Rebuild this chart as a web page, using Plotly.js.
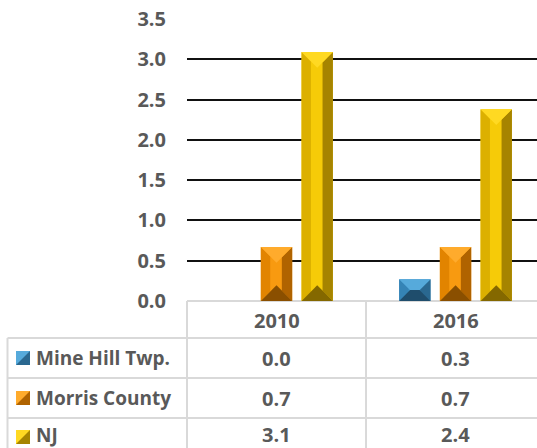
<!DOCTYPE html>
<html>
<head>
<meta charset="utf-8">
<script src="https://cdn.plot.ly/plotly-3.0.1.min.js"></script>
<style>html,body{margin:0;padding:0;background:#fff;}#chart{width:537px;height:448px;}</style>
</head>
<body>
<div id="chart"></div>
<script>
// ---- data ----
const categories = ['2010', '2016'];
const seriesNames = ['Mine Hill Twp.', 'Morris County', 'NJ'];
const mineHill = [0.0, 0.27];
const morrisCounty = [0.67, 0.67];
const nj = [3.09, 2.38];
const yTickVals = [0, 0.5, 1, 1.5, 2, 2.5, 3, 3.5];

// ---- styles ----
const W = 537, H = 448;
const M = {l: 187, r: 0, t: 19, b: 147};
const xRange = [-0.5, 1.455];
const yRange = [0, 3.5];
const bargap = 0.318, bargroupgap = 0.23;
const txtColor = '#595959';
const gridColor = '#d9d9d9';
const FONT = 'Open Sans, sans-serif';
const palettes = [
  {face:'#3d90c4', top:'#56aadb', left:'#3584b6', right:'#2a6890', bottom:'#1f4d6c'},
  {face:'#f89a10', top:'#ffab2c', left:'#e28400', right:'#b06300', bottom:'#8a4f00'},
  {face:'#f6cb08', top:'#ffd922', left:'#dcb000', right:'#a68400', bottom:'#846800'}
];
const seriesValues = [mineHill, morrisCounty, nj];

const plotW = W - M.l - M.r, plotH = H - M.t - M.b;
const pxX = plotW / (xRange[1] - xRange[0]);
const pxY = plotH / (yRange[1] - yRange[0]);
const py2paper = p => (H - M.b - p) / plotH;
const px2paper = p => (p - M.l) / plotW;

const traces = seriesValues.map((vals, i) => ({
  type: 'bar', x: categories, y: vals, name: seriesNames[i],
  marker: {color: palettes[i].face, line: {width: 0}},
  hoverinfo: 'none', showlegend: false
}));

// bevel overlays computed from the data arrays via axis units
const shapes = [];
const nS = seriesValues.length;
const groupW = 1 - bargap, slot = groupW / nS, bw = slot * (1 - bargroupgap);
seriesValues.forEach((vals, i) => {
  vals.forEach((v, c) => {
    if (v <= 0) return;
    const xc = c - groupW / 2 + slot * (i + 0.5);
    const x0 = xc - bw / 2, x1 = xc + bw / 2;
    const T = v, B = 0;
    const wPx = bw * pxX, hPx = v * pxY;
    const dPx = Math.min(wPx / 2, hPx / 2);
    const dx = dPx / pxX, dy = dPx / pxY;
    const sL = Math.min(0.3 * wPx, dPx) , sR = Math.min(0.33 * wPx, dPx);
    const p = palettes[i];
    const path = pts => 'M' + pts.map(q => q[0] + ',' + q[1]).join(' L') + ' Z';
    const add = (pts, col) => shapes.push({type:'path', xref:'x', yref:'y', path: path(pts), fillcolor: col, line:{width:0}, layer:'above'});
    add([[x0,T],[x0+sL/pxX,T-Math.min(sL,dPx)/pxY],[x0+sL/pxX,B+Math.min(sL,dPx)/pxY],[x0,B]], p.left);
    add([[x1,T],[x1-sR/pxX,T-Math.min(sR,dPx)/pxY],[x1-sR/pxX,B+Math.min(sR,dPx)/pxY],[x1,B]], p.right);
    add([[x0,T],[x1,T],[x1-dx,T-dy],[x0+dx,T-dy]], p.top);
    add([[x0,B],[x1,B],[x1-dx,B+dy],[x0+dx,B+dy]], p.bottom);
  });
});

// data table grid
const lineStyle = {color: gridColor, width: 2};
const rowLines = [338, 378, 418];
rowLines.forEach(y => shapes.push({type:'line', xref:'paper', yref:'paper', x0: px2paper(7.5), x1: px2paper(W + 20), y0: py2paper(y), y1: py2paper(y), line: lineStyle}));
shapes.push({type:'line', xref:'paper', yref:'paper', x0: 0, x1: 0, y0: py2paper(301), y1: py2paper(H + 10), line: lineStyle});
shapes.push({type:'line', xref:'x', yref:'paper', x0: 0.5, x1: 0.5, y0: py2paper(301), y1: py2paper(H + 10), line: lineStyle});
shapes.push({type:'line', xref:'paper', yref:'paper', x0: px2paper(7.5), x1: px2paper(7.5), y0: py2paper(338), y1: py2paper(H + 10), line: lineStyle});

const annotations = [];
const tf = {family: FONT, size: 20, color: txtColor, weight: 700};
const nf = {family: FONT, size: 19, color: txtColor, weight: 700};
categories.forEach((c, ci) => annotations.push({xref:'x', yref:'paper', x: ci, y: py2paper(320), text: '<b>' + c + '</b>', showarrow:false, font: tf, xanchor:'center', yanchor:'middle'}));
const rowCenters = [358, 398, 434.5];
const keyCenters = [358, 398, 437];
seriesNames.forEach((n, i) => {
  annotations.push({xref:'paper', yref:'paper', x: px2paper(34), y: py2paper(rowCenters[i]), text: '<b>' + n + '</b>', showarrow:false, font: nf, xanchor:'left', yanchor:'middle'});
  seriesValues[i].forEach((v, ci) => annotations.push({xref:'x', yref:'paper', x: ci, y: py2paper(rowCenters[i]), text: '<b>' + v.toFixed(1) + '</b>', showarrow:false, font: tf, xanchor:'center', yanchor:'middle'}));
  // legend key with bevel look
  const kx0 = px2paper(16), kx1 = px2paper(30), ky0 = py2paper(keyCenters[i] + 7), ky1 = py2paper(keyCenters[i] - 7);
  shapes.push({type:'rect', xref:'paper', yref:'paper', x0: kx0, x1: kx1, y0: ky0, y1: ky1, fillcolor: palettes[i].top, line:{width:0}});
  shapes.push({type:'path', xref:'paper', yref:'paper', path: 'M' + kx0 + ',' + ky0 + ' L' + kx1 + ',' + ky1 + ' L' + kx1 + ',' + ky0 + ' Z', fillcolor: palettes[i].right, line:{width:0}});
});

const layout = {
  width: W, height: H,
  margin: M,
  paper_bgcolor: '#ffffff', plot_bgcolor: '#ffffff',
  barmode: 'group', bargap: bargap, bargroupgap: bargroupgap,
  showlegend: false,
  xaxis: {type:'category', range: xRange, showticklabels: false, showgrid: false, zeroline: false, showline: false, ticks: ''},
  yaxis: {range: yRange, tickvals: yTickVals, tickformat: '.1f', showgrid: true, gridcolor: '#111111', gridwidth: 2,
          zeroline: true, zerolinecolor: gridColor, zerolinewidth: 2, showline: false, ticks: '',
          ticklabelstandoff: 20, tickfont: {family: FONT, size: 20, color: txtColor, weight: 700}},
  shapes: shapes,
  annotations: annotations,
  font: {family: FONT}
};

Plotly.newPlot('chart', traces, layout, {staticPlot: true, displayModeBar: false});
</script>
</body>
</html>
